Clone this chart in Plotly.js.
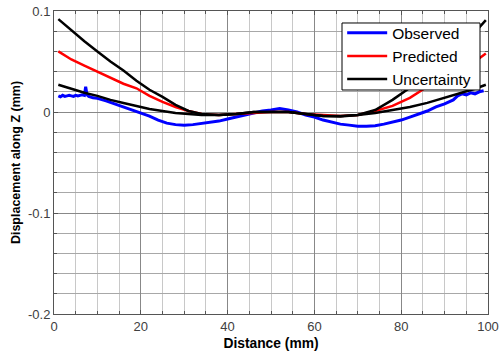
<!DOCTYPE html>
<html><head><meta charset="utf-8">
<script src="https://cdn.plot.ly/plotly-3.0.1.min.js"></script>
<style>html,body{margin:0;padding:0;background:#fff}#chart{width:502px;height:360px}</style>
</head><body><div id="chart"></div>
<script>
const obsX = [1,1.5,2,2.5,3,3.5,4,4.5,5,5.5,6,6.5,7,7.3,7.6,8,9,10,12,14,16,18,20,22,24,26,28,30,32,34,36,38,40,42,44,46,48,50,52,54,56,58,60,62,64,66,68,70,72,74,76,78,80,82,84,86,88,90,92,93,94,95,96,97,98,99];
const obsY = [0.016,0.015,0.0165,0.0155,0.016,0.0165,0.016,0.0155,0.0165,0.016,0.0165,0.017,0.0165,0.025,0.017,0.0155,0.014,0.0135,0.011,0.008,0.005,0.002,-0.001,-0.004,-0.008,-0.011,-0.0125,-0.013,-0.0125,-0.0115,-0.0105,-0.009,-0.007,-0.005,-0.003,-0.0005,0.001,0.002,0.0035,0.002,0.0,-0.003,-0.005,-0.008,-0.010,-0.012,-0.013,-0.014,-0.014,-0.0135,-0.012,-0.010,-0.008,-0.005,-0.002,0.001,0.005,0.008,0.012,0.016,0.018,0.017,0.019,0.018,0.020,0.021];
const modX = [1,4,7,10,13,16,19,22,25,28,31,34,38,42,46,50,54,58,62,66,70,74,78,82,86,90,94,97,99.5];
const predY = [0.060,0.052,0.046,0.040,0.034,0.028,0.0235,0.016,0.010,0.005,0.001,-0.002,-0.003,-0.002,-0.0005,0.0,0.0,-0.002,-0.003,-0.004,-0.003,0.001,0.006,0.014,0.025,0.032,0.042,0.050,0.058];
const upperY = [0.092,0.081,0.070,0.060,0.050,0.041,0.031,0.022,0.015,0.007,0.001,-0.002,-0.003,-0.002,0.0,0.0,0.0,-0.002,-0.004,-0.0045,-0.003,0.002,0.012,0.024,0.037,0.051,0.066,0.079,0.091];
const lowerY = [0.027,0.023,0.019,0.016,0.012,0.009,0.006,0.003,0.001,-0.001,-0.002,-0.003,-0.003,-0.002,0.0,0.0,0.0,-0.002,-0.004,-0.004,-0.003,-0.001,0.002,0.005,0.009,0.014,0.019,0.023,0.027];
const seriesNames = ["Observed","Predicted","Uncertainty"];
const xTickVals = [0,20,40,60,80,100];
const yTickVals = [0.1,0,-0.1,-0.2];
const yTickText = ["0.1","0","-0.1","-0.2"];

const font = "Liberation Sans, Arial, sans-serif";
const traces = [
  {x: obsX, y: obsY, mode:"lines", name: seriesNames[0], line:{color:"#0000ff", width:3}},
  {x: modX, y: predY, mode:"lines", name: seriesNames[1], line:{color:"#ff0000", width:2.5}},
  {x: modX, y: upperY, mode:"lines", name: seriesNames[2], legendgroup:"u", line:{color:"#000000", width:2.5}},
  {x: modX, y: lowerY, mode:"lines", name: seriesNames[2], legendgroup:"u", showlegend:false, line:{color:"#000000", width:2.5}}
];
const layout = {
  width:502, height:360,
  margin:{l:54, r:14, t:11, b:46},
  paper_bgcolor:"#fff", plot_bgcolor:"#fff",
  font:{family:font, size:12, color:"#404040"},
  showlegend:true,
  legend:{x:0.664, y:0.983, xanchor:"left", yanchor:"top", bgcolor:"rgba(0,0,0,0)", borderwidth:0,
          font:{family:font, size:15.5, color:"#000"}, tracegroupgap:0, itemwidth:40},
  shapes:[{type:"rect", xref:"paper", yref:"paper", x0:0.6636, x1:0.9816, y0:0.7393, y1:0.9604,
           line:{color:"#000", width:1}, fillcolor:"#fff", layer:"above"}],
  xaxis:{range:[0,100], tickvals:xTickVals, showline:true, mirror:"ticks", linecolor:"#555", linewidth:1,
         gridcolor:"#888", gridwidth:1, zeroline:false, ticks:"inside", ticklen:4, tickcolor:"#555",
         tickfont:{size:13, color:"#404040"},
         minor:{dtick:5, showgrid:true, gridcolor:"#c8c8c8", gridwidth:1, ticks:"inside", ticklen:3, tickcolor:"#555"},
         title:{text:"<b>Distance (mm)</b>", font:{size:13.8, color:"#000"}, standoff:5}},
  yaxis:{range:[-0.2,0.1], tickvals:yTickVals, ticktext:yTickText, showline:true, mirror:"ticks", linecolor:"#555", linewidth:1,
         gridcolor:"#888", gridwidth:1, zeroline:false, ticks:"inside", ticklen:4, tickcolor:"#555",
         tickfont:{size:13, color:"#404040"},
         minor:{dtick:0.02, showgrid:true, gridcolor:"#a8a8a8", gridwidth:1, ticks:"inside", ticklen:3, tickcolor:"#555"},
         title:{text:"<b>Displacement along Z (mm)</b>", font:{size:12.5, color:"#000"}, standoff:4}}
};
Plotly.newPlot("chart", traces, layout, {displayModeBar:false, staticPlot:true});
</script></body></html>
